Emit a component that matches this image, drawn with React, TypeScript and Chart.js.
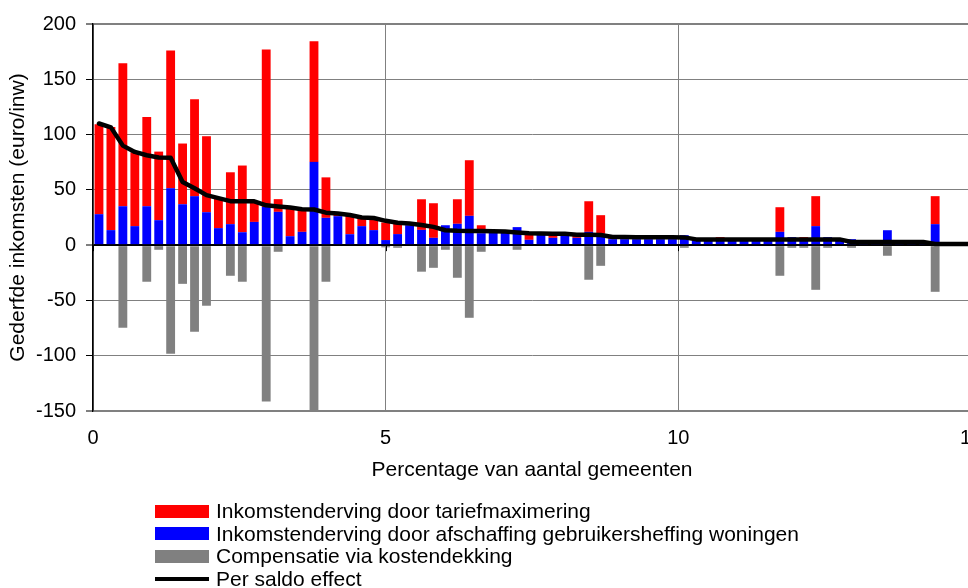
import React, { useEffect, useRef } from "react";
import { Chart, registerables } from "chart.js";

Chart.register(...registerables);

// Number of municipalities (each bar = one municipality, x = cumulative percentage)
const GEMEENTEN = 490;

const LABEL_RED = "Inkomstenderving door tariefmaximering";
const LABEL_BLUE = "Inkomstenderving door afschaffing gebruikersheffing woningen";
const LABEL_GRAY = "Compensatie via kostendekking";
const LABEL_SALDO = "Per saldo effect";
const X_TITLE = "Percentage van aantal gemeenten";
const Y_TITLE = "Gederfde inkomsten (euro/inw)";

const X_TICKS = [0, 5, 10, 15];
const Y_TICKS = [-150, -100, -50, 0, 50, 100, 150, 200];

// Blue part (bottom of stack)
const BLUE = [
  28, 13.6, 35.2, 17.2, 35.2, 22.6, 51.5, 37, 44.3, 29.8,
  15.4, 19, 11.7, 21, 34.6, 30.1, 8.1, 12, 75.3, 24.7,
  26.2, 9.9, 17.2, 13.6, 4.6, 10, 18, 13.8, 6.6, 18,
  19.3, 26.5, 10.8, 12.6, 12.3, 16.3, 4.8, 10.6, 6.6, 9,
  6.6, 12, 10.2, 5.4, 5.4, 5.4, 5.4, 5.4, 5.4, 9,
  4, 4.5, 5, 5.4, 6, 5.4, 5.4, 12, 7.2, 5.4,
  17.2, 7.2, 5, 5.4, 3, 3, 13.5, 3, 3, 2.5,
  19, 1.5, 1.2, 1,
];

// Red part (stacked on top of blue)
const RED = [
  81.3, 93.3, 129.2, 66.8, 80.7, 62, 124.5, 54.9, 87.6, 68.7,
  26.6, 46.9, 60.3, 18.5, 142.4, 11.5, 25.9, 20.5, 109, 36.6,
  2.5, 17.4, 7.3, 9.9, 15.9, 11.7, 1.5, 27.7, 31.3, 0,
  22.2, 50.3, 7.2, 0, 0, 0, 5.7, 0, 3.8, 1.3,
  2.9, 27.7, 16.9, 2.1, 1.9, 1.8, 1.8, 1.7, 1.7, 0,
  1.4, 0.9, 2.2, 0, 0, 0, 0, 22.3, 0, 1.8,
  27.1, 0, 0, 0, 0, 0, 0, 0, 0, 0,
  25.3, 0, 0, 0,
];

// Grey compensation (negative)
const GRAY = [
  0, 0, -74.7, 0, -33.1, -4.2, -98.2, -35, -78.3, -54.8,
  0, -27.7, -33.1, 0, -141.5, -6, 0, 0, -152.4, -33.1,
  0, 0, 0, 0, -2, -2.4, 0, -24, -20.5, -4.2,
  -29.5, -65.7, -6, 0, 0, -4.2, 0, 0, 0, 0,
  0, -31.3, -18.7, 0, 0, 0, 0, 0, 0, -2.4,
  0, 0, 0, 0, 0, 0, 0, -27.7, -2.4, -2.4,
  -40.4, -2.4, 0, -2.4, 0, 0, -9.6, 0, 0, 0,
  -42.2, 0, 0, 0,
];

// Net effect line
const SALDO = [
  110, 106.5, 90, 84.3, 81.3, 79.3, 79, 57.2, 51.5, 45.2,
  42.5, 39.8, 39.7, 39.6, 36, 35, 34, 32.5, 32.2, 29.4,
  28.7, 27.3, 25, 24.5, 22, 20.2, 19.6, 18.3, 16.5, 13.5,
  13, 12.8, 12.8, 12.6, 12.3, 11.5, 10.8, 10.6, 10.4, 10.3,
  9.4, 9.3, 9.2, 7.4, 7.3, 7.2, 7.2, 7.1, 7.1, 7,
  5.2, 5.2, 5.2, 5.2, 5.2, 5.2, 5.2, 5.2, 5.2, 5.2,
  5.2, 5.2, 5.2, 2.8, 2.8, 2.8, 2.8, 2.8, 2.8, 2.8,
  1, 1, 1, 1,
];

const FONT = "'Liberation Sans', Arial, sans-serif";

const LEGEND = [
  { label: LABEL_RED, color: "#FF0000", line: false },
  { label: LABEL_BLUE, color: "#0000FF", line: false },
  { label: LABEL_GRAY, color: "#808080", line: false },
  { label: LABEL_SALDO, color: "#000000", line: true },
];

export default function App() {
  const ref = useRef<HTMLCanvasElement>(null);

  useEffect(() => {
    if (!ref.current) return;
    const xs = BLUE.map((_, i) => ((i + 0.5) * 100) / GEMEENTEN);
    const pts = (arr: number[]) => arr.map((y, i) => ({ x: xs[i], y }));

    const zeroTicks = {
      id: "zeroTicks",
      afterDatasetsDraw(chart: any) {
        const { ctx, scales } = chart;
        const y0 = scales.y.getPixelForValue(0);
        ctx.save();
        ctx.strokeStyle = "#000";
        ctx.lineWidth = 1;
        for (const v of X_TICKS) {
          const px = Math.round(scales.x.getPixelForValue(v)) + 0.5;
          ctx.beginPath();
          ctx.moveTo(px, y0);
          ctx.lineTo(px, y0 + 6);
          ctx.stroke();
        }
        ctx.restore();
      },
    };

    const barCommon = {
      grouped: false,
      categoryPercentage: 1,
      barPercentage: 0.74,
      order: 1,
      borderWidth: 0,
    };

    const chart = new Chart(ref.current, {
      type: "bar",
      data: {
        datasets: [
          { ...barCommon, label: LABEL_BLUE, data: pts(BLUE), backgroundColor: "#0000FF" },
          { ...barCommon, label: LABEL_RED, data: pts(RED), backgroundColor: "#FF0000" },
          { ...barCommon, label: LABEL_GRAY, data: pts(GRAY), backgroundColor: "#808080" },
          {
            type: "line",
            label: LABEL_SALDO,
            data: pts(SALDO),
            borderColor: "#000000",
            backgroundColor: "#000000",
            borderWidth: 4.5,
            pointRadius: 0,
            tension: 0,
            borderJoinStyle: "round",
            borderCapStyle: "round",
            order: 0,
          } as any,
        ],
      },
      options: {
        animation: false,
        responsive: true,
        maintainAspectRatio: false,
        layout: { padding: { top: 24, bottom: 105, left: 0, right: 0 } },
        plugins: {
          legend: { display: false },
          tooltip: { enabled: false },
        },
        scales: {
          x: {
            type: "linear",
            min: 0,
            max: 15,
            offset: false,
            afterBuildTicks: (s: any) => {
              s.ticks = X_TICKS.map((v) => ({ value: v }));
            },
            ticks: {
              font: { family: FONT, size: 20 },
              color: "#000",
              padding: 15,
              maxRotation: 0,
              autoSkip: false,
            },
            grid: { color: "#808080", lineWidth: 1, drawTicks: false, offset: false },
            border: { display: false },
            title: {
              display: true,
              text: X_TITLE,
              font: { family: FONT, size: 21 },
              color: "#000",
              padding: { top: 0, bottom: 0 },
            },
            afterFit: (s: any) => {
              s.height = 72;
              s.paddingLeft = 0;
              s.paddingRight = 0;
            },
          },
          y: {
            stacked: true,
            min: -150,
            max: 200,
            afterBuildTicks: (s: any) => {
              s.ticks = Y_TICKS.map((v) => ({ value: v }));
            },
            ticks: {
              font: { family: FONT, size: 20 },
              color: "#000",
              padding: 10,
            },
            grid: {
              color: (c: any) => (c.tick && c.tick.value === 0 ? "#000" : "#808080"),
              lineWidth: (c: any) =>
                c.tick && (c.tick.value === 0 || c.tick.value === 200 || c.tick.value === -150) ? 2 : 1,
              tickColor: "#000",
              tickLength: 7,
              tickWidth: 1,
            },
            border: { color: "#000", width: 1.5 },
            title: {
              display: true,
              text: Y_TITLE,
              font: { family: FONT, size: 21 },
              color: "#000",
              padding: { top: 6, bottom: 0 },
            },
            afterFit: (s: any) => {
              s.width = 93;
              s.paddingTop = 0;
              s.paddingBottom = 0;
            },
          },
        },
      } as any,
      plugins: [zeroTicks],
    });
    return () => chart.destroy();
  }, []);

  return (
    <div
      style={{
        position: "absolute",
        left: 0,
        top: 0,
        width: 968,
        height: 588,
        overflow: "hidden",
        background: "#fff",
        fontFamily: FONT,
      }}
    >
      <div style={{ position: "absolute", left: 0, top: 0, width: 971, height: 588 }}>
        <canvas ref={ref} />
      </div>
      {LEGEND.map((item, i) => (
        <div
          key={item.label}
          style={{
            position: "absolute",
            left: 155,
            top: 499 + i * 22.7,
            height: 24,
            display: "flex",
            alignItems: "center",
            whiteSpace: "nowrap",
          }}
        >
          <span
            style={{
              display: "inline-block",
              width: 54,
              height: item.line ? 4 : 13,
              background: item.color,
              marginRight: 7,
            }}
          />
          <span style={{ fontSize: 21, lineHeight: "24px", color: "#000" }}>{item.label}</span>
        </div>
      ))}
    </div>
  );
}
